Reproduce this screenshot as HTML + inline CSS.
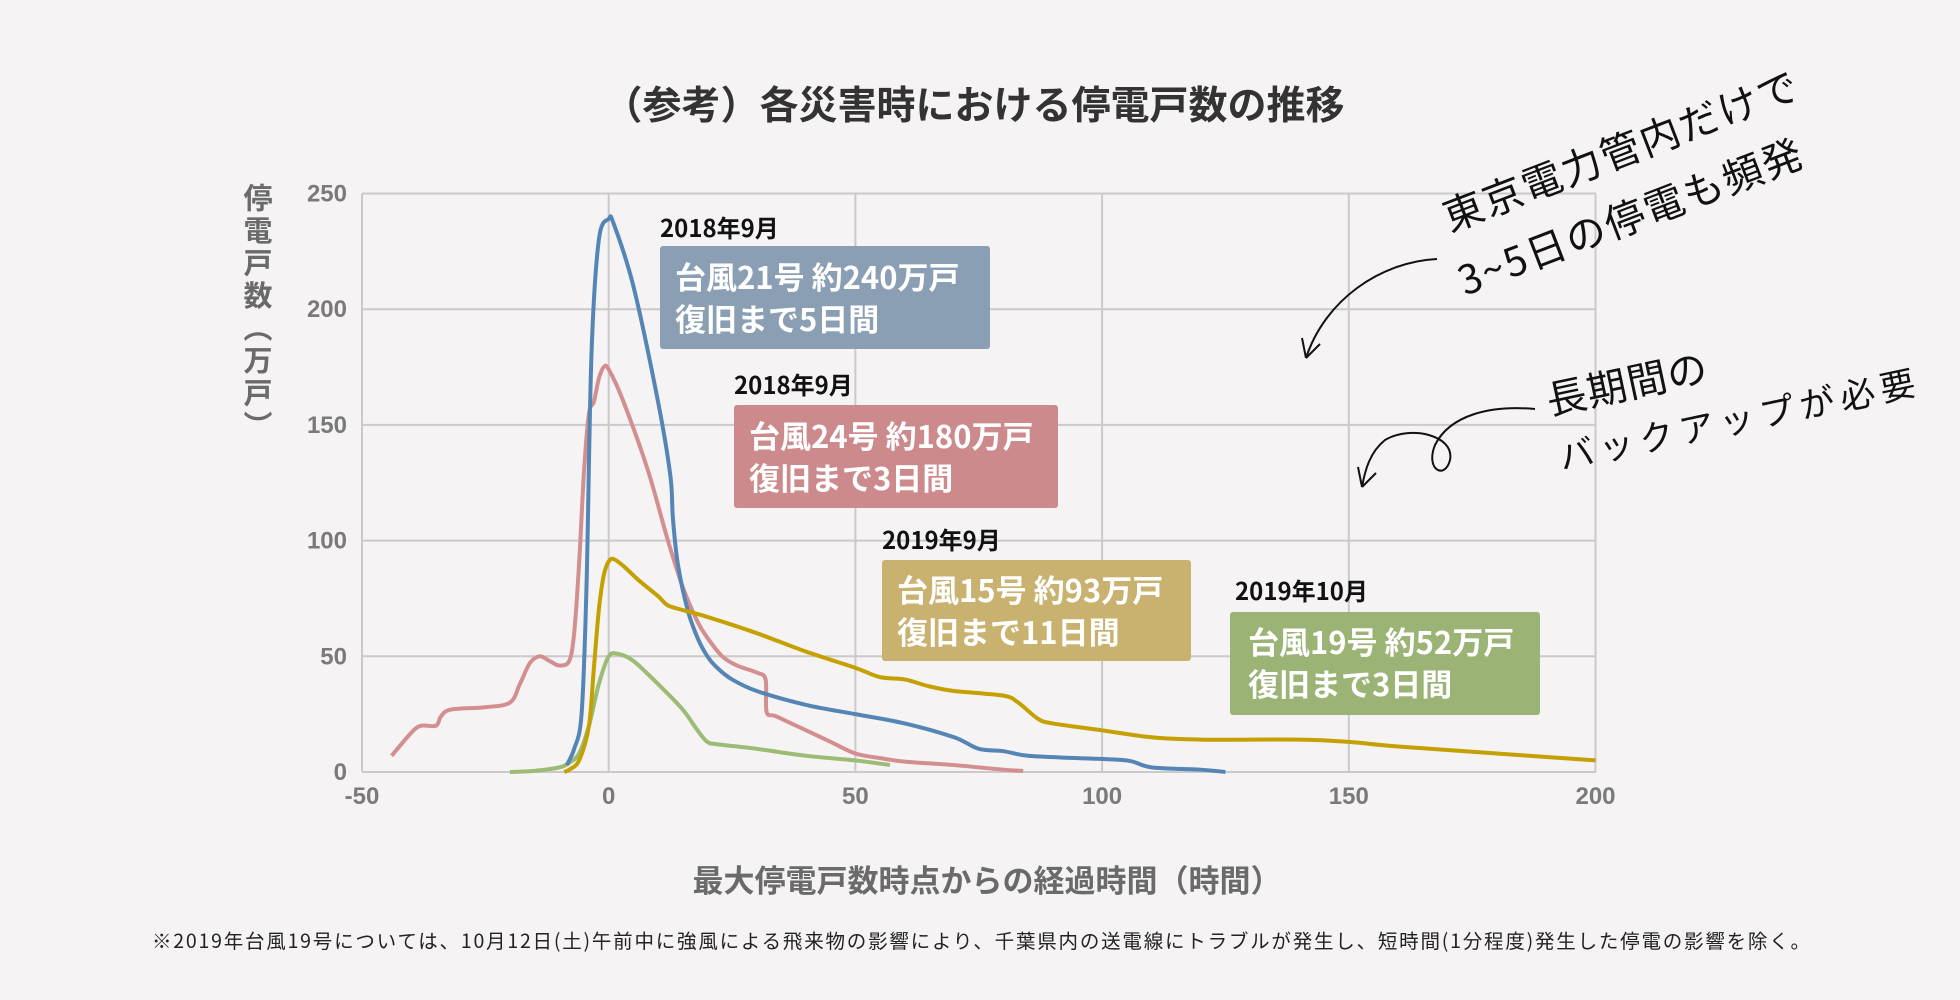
<!DOCTYPE html>
<html><head><meta charset="utf-8"><style>
html,body{margin:0;padding:0;background:#f5f3f4;}
svg{display:block;}
.t{font-family:"Liberation Sans","Noto Sans CJK JP",sans-serif;}
.j{font-family:"Noto Sans CJK JP",sans-serif;}
.h{font-family:"Noto Sans CJK JP","WenQuanYi Zen Hei",sans-serif;}
</style></head><body>
<svg id="s" width="1960" height="1000" viewBox="0 0 1960 1000" xmlns="http://www.w3.org/2000/svg">
<rect width="1960" height="1000" fill="#f5f3f4"/>
<text class="j" x="974" y="119" font-size="39" font-weight="bold" fill="#333" text-anchor="middle">（参考）各災害時における停電戸数の推移</text>
<g id="grid" stroke="#cacaca" stroke-width="2" fill="none"></g>
<g class="t" font-size="24" font-weight="bold" fill="#7a7a7a" id="ticks"></g>
<text class="j" x="258" y="183" font-size="29" font-weight="bold" fill="#6a6a6a" letter-spacing="3.5" style="writing-mode:vertical-rl;text-orientation:upright" writing-mode="tb">停電戸数（万戸）</text>
<text class="j" x="987" y="892" font-size="31" font-weight="bold" fill="#6a6a6a" text-anchor="middle">最大停電戸数時点からの経過時間（時間）</text>
<text class="j" x="152" y="948" font-size="19.5" fill="#222" textLength="1658">※2019年台風19号については、10月12日(土)午前中に強風による飛来物の影響により、千葉県内の送電線にトラブルが発生し、短時間(1分程度)発生した停電の影響を除く。</text>
<g id="lines" fill="none" stroke-width="4" stroke-linejoin="round" stroke-linecap="butt"></g>

<g class="j" font-weight="bold">
<text x="660" y="237" font-size="24" fill="#111">2018年9月</text>
<rect x="660" y="246" width="330" height="103" rx="3" fill="#8a9fb4"/>
<text x="675" y="289" font-size="31" fill="#fff">台風21号 約240万戸</text>
<text x="675" y="331" font-size="31" fill="#fff">復旧まで5日間</text>

<text x="734" y="394" font-size="24" fill="#111">2018年9月</text>
<rect x="734" y="405" width="324" height="103" rx="3" fill="#cd8a8c"/>
<text x="749" y="448" font-size="31" fill="#fff">台風24号 約180万戸</text>
<text x="749" y="490" font-size="31" fill="#fff">復旧まで3日間</text>

<text x="882" y="549" font-size="24" fill="#111">2019年9月</text>
<rect x="882" y="560" width="309" height="101" rx="3" fill="#c9b26f"/>
<text x="897" y="602" font-size="31" fill="#fff">台風15号 約93万戸</text>
<text x="897" y="644" font-size="31" fill="#fff">復旧まで11日間</text>

<text x="1235" y="600" font-size="24" fill="#111">2019年10月</text>
<rect x="1230" y="612" width="310" height="103" rx="3" fill="#9bb374"/>
<text x="1248" y="654" font-size="31" fill="#fff">台風19号 約52万戸</text>
<text x="1248" y="696" font-size="31" fill="#fff">復旧まで3日間</text>
</g>

<g class="h" fill="#111">
<text font-size="40" transform="translate(1450,232) rotate(-21)" letter-spacing="2">東京電力管内だけで</text>
<text font-size="40" transform="translate(1465,296) rotate(-21)" letter-spacing="2">3~5日の停電も頻発</text>
<text font-size="40" transform="translate(1550,415) rotate(-12)" letter-spacing="1">長期間の</text>
<text font-size="35" transform="translate(1562,470) rotate(-12)" letter-spacing="6">バックアップが必要</text>
</g>
<g fill="none" stroke="#111" stroke-width="2">
<path d="M1437,259 C1380,262 1325,300 1306,358"/>
<path d="M1306,358 L1302,338 M1306,358 L1320,344"/>
<path d="M1535,409 C1490,405 1450,415 1435,445 C1425,470 1445,480 1450,460 C1455,435 1410,425 1385,440 C1370,452 1365,470 1362,487"/>
<path d="M1362,487 L1358,467 M1362,487 L1376,473"/>
</g>
</svg>
<script>
var X=function(v){return 608.7+v*4.934},Y=function(v){return 772-v*2.314};
var ns="http://www.w3.org/2000/svg";
function el(p,n,a,t){var e=document.createElementNS(ns,n);for(var k in a)e.setAttribute(k,a[k]);if(t)e.textContent=t;p.appendChild(e);return e;}
var g=document.getElementById('grid'),tk=document.getElementById('ticks');
for(var v=0;v<=250;v+=50){el(g,'line',{x1:362,x2:1596,y1:Y(v),y2:Y(v)});el(tk,'text',{x:347,y:Y(v)+8,'text-anchor':'end'},String(v));}
for(var x=-50;x<=200;x+=50){el(g,'line',{x1:X(x),x2:X(x),y1:Y(0),y2:Y(250)});el(tk,'text',{x:X(x),y:804,'text-anchor':'middle'},String(x));}
function path(pts){var p=pts.map(function(a){return [X(a[0]),Y(a[1])]});var d='M'+p[0][0]+','+p[0][1];
for(var i=0;i<p.length-1;i++){var p0=p[i-1]||p[i],p1=p[i],p2=p[i+1],p3=p[i+2]||p2;var t=0.16;
d+=' C'+(p1[0]+(p2[0]-p0[0])*t)+','+(p1[1]+(p2[1]-p0[1])*t)+' '+(p2[0]-(p3[0]-p1[0])*t)+','+(p2[1]-(p3[1]-p1[1])*t)+' '+p2[0]+','+p2[1];}return d;}
var L=document.getElementById('lines');
var green=[[-20,0],[-15,0.5],[-10,2],[-8,4],[-6,8],[-4,20],[-2,38],[0,50],[2,51],[5,48],[10,38],[15,27],[18,18],[20,13],[22,12],[30,10],[40,7],[50,5],[57,3]];
var red=[[-44,7],[-40,17],[-38,20],[-35,20],[-34,24],[-32,27],[-25,28],[-20,30],[-18,38],[-16,47],[-14,50],[-12,48],[-10,46],[-8,48],[-7,60],[-6,90],[-5,130],[-4,155],[-3,160],[-2,170],[-1,175],[0,174],[3,160],[8,130],[12,100],[15,80],[18,65],[20,58],[23,50],[26,46],[30,43],[31.8,40],[32,26],[34,24],[40,18],[45,13],[50,8],[55,6],[60,4.5],[70,3],[80,1],[84,0.5]];
var blue=[[-8.5,3],[-7,10],[-5.5,25],[-4.5,80],[-3.5,180],[-2,230],[0,239],[1,237],[5,210],[10,160],[12.5,128],[13,110],[14,90],[16,70],[18,58],[20,50],[22,45],[25,40],[30,35],[40,29],[50,25],[60,21],[70,15],[75,10],[80,9],[85,7],[95,6],[105,5],[110,2],[120,1],[125,0]];
var yel=[[-9,0],[-8,1],[-6,5],[-4,20],[-3,45],[-2,70],[-1,85],[0,91],[1,92],[3,89],[6,83],[10,76],[12,72],[15,70],[20,67],[30,60],[40,52],[50,45],[55,41],[60,40],[65,37],[70,35],[80,33],[83,30],[87,23],[90,21],[100,18],[110,15],[120,14],[140,14],[150,13],[160,11],[180,8],[200,5]];
el(L,'path',{d:path(green),stroke:'#9cbb74'});
el(L,'path',{d:path(red),stroke:'#d38f8f'});
el(L,'path',{d:path(blue),stroke:'#5485b5'});
el(L,'path',{d:path(yel),stroke:'#c4a000'});
</script>
</body></html>
